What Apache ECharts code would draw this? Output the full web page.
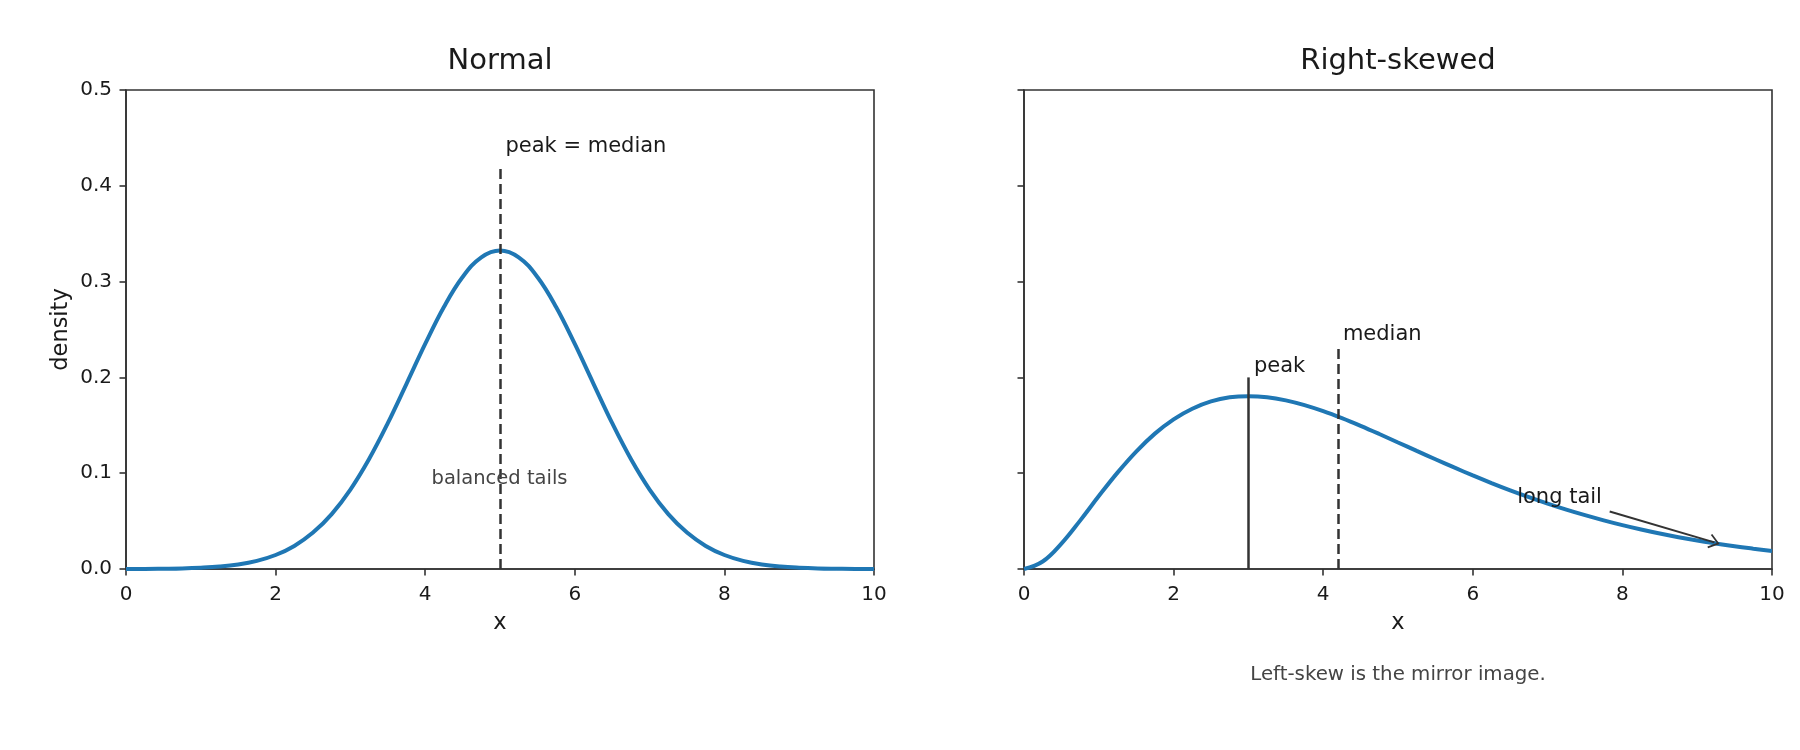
<!DOCTYPE html>
<html>
<head>
<meta charset="utf-8">
<script src="https://cdn.jsdelivr.net/npm/echarts@6/dist/echarts.min.js"></script>
<style>
  html, body { margin: 0; padding: 0; background: #fff; }
  #chart { width: 1800px; height: 750px; }
</style>
</head>
<body>
<div id="chart"></div>
<script>
// x grid shared by both curves
var xs = [0, 0.25, 0.5, 0.75, 1, 1.25, 1.5, 1.75, 2, 2.25, 2.5, 2.75, 3, 3.25, 3.5, 3.75,
  4, 4.25, 4.5, 4.75, 5, 5.25, 5.5, 5.75, 6, 6.25, 6.5, 6.75, 7, 7.25, 7.5, 7.75,
  8, 8.25, 8.5, 8.75, 9, 9.25, 9.5, 9.75, 10];

// density
var normalY = [0.0001, 0.0001, 0.0003, 0.0006, 0.0013, 0.0025, 0.0047, 0.0085, 0.0146, 0.0241,
  0.0380, 0.0573, 0.0829, 0.1148, 0.1522, 0.1933, 0.2349, 0.2735, 0.3048, 0.3253, 0.3324,
  0.3253, 0.3048, 0.2735, 0.2349, 0.1933, 0.1522, 0.1148, 0.0829, 0.0573, 0.0380,
  0.0241, 0.0146, 0.0085, 0.0047, 0.0025, 0.0013, 0.0006, 0.0003, 0.0001, 0.0001];

// density
var skewY = [0, 0.0078, 0.0265, 0.0505, 0.0761, 0.1006, 0.1226, 0.1413, 0.1562, 0.1673,
  0.1749, 0.1792, 0.1804, 0.1793, 0.1760, 0.1710, 0.1647, 0.1574, 0.1494, 0.1409, 0.1321,
  0.1233, 0.1146, 0.1060, 0.0977, 0.0897, 0.0821, 0.0750, 0.0683, 0.0620, 0.0562,
  0.0508, 0.0458, 0.0412, 0.0370, 0.0332, 0.0297, 0.0266, 0.0237, 0.0212, 0.0189];

var titles = ['Normal', 'Right-skewed'];
var caption = 'Left-skew is the mirror image.';

// marker lines: [x, top]
var normalMedian = [5, 0.42];
var skewPeak = [3, 0.2];
var skewMedian = [4.2, 0.23];
// arrow from text to tail: [x0, y0, x1, y1]
var tailArrow = [7.83, 0.06, 9.23, 0.0278];

// annotation texts: [x, y, text]
var leftNotes = [[5.08, 0.429, 'peak = median']];
var rightNotes = [[3.08, 0.2, 'peak'], [4.27, 0.233, 'median'], [6.6, 0.0635, 'long tail']];
var balancedNote = [5, 0.094, 'balanced tails'];

var FONT = 'DejaVu Sans';
var INK = '#1a1a1a';
var SPINE = '#333';

function xAxisFor(i) {
  return {
    gridIndex: i, type: 'value', min: 0, max: 10, interval: 2,
    name: 'x', nameLocation: 'middle', nameGap: 42.5,
    nameTextStyle: { fontFamily: FONT, fontSize: 22.5, color: INK },
    axisLine: { show: true, onZero: false, lineStyle: { color: SPINE, width: 1.6 } },
    axisTick: { show: true, inside: false, length: 6.5, lineStyle: { color: SPINE, width: 1.6 } },
    axisLabel: { fontFamily: FONT, fontSize: 20, color: INK, margin: 15.5 },
    splitLine: { show: false }
  };
}

function yAxisFor(i) {
  return {
    gridIndex: i, type: 'value', min: 0, max: 0.5, interval: 0.1,
    name: i === 0 ? 'density' : '', nameLocation: 'middle', nameGap: 53,
    nameTextStyle: { fontFamily: FONT, fontSize: 22.5, color: INK },
    axisLine: { show: true, onZero: false, lineStyle: { color: SPINE, width: 1.6 } },
    axisTick: { show: true, inside: false, length: 6.5, lineStyle: { color: SPINE, width: 1.6 } },
    axisLabel: {
      show: i === 0, fontFamily: FONT, fontSize: 20, color: INK, margin: 14,
      formatter: function (v) { return v.toFixed(1); }
    },
    splitLine: { show: false }
  };
}

function vline(x, top, dashed) {
  return [
    { coord: [x, 0], lineStyle: { color: SPINE, width: 2.5, type: dashed ? [10, 5] : 'solid' } },
    { coord: [x, top] }
  ];
}

function notes(list, gi, color, size, align, vAlign) {
  return {
    type: 'scatter', xAxisIndex: gi, yAxisIndex: gi,
    symbolSize: 1, itemStyle: { color: 'transparent', opacity: 1 }, silent: true, z: 5,
    data: list.map(function (n) { return { value: [n[0], n[1]], name: n[2] }; }),
    label: {
      show: true, formatter: '{b}', position: [0, 0],
      align: align, verticalAlign: vAlign,
      fontFamily: FONT, fontSize: size, color: color
    }
  };
}

function titleAt(text, x, y, size, color) {
  return {
    text: text, left: x, top: y, textAlign: 'center', padding: 0,
    textStyle: { fontFamily: FONT, fontSize: size, fontWeight: 'normal', color: color }
  };
}

var chart = echarts.init(document.getElementById('chart'), null, { renderer: 'canvas' });

chart.setOption({
  animation: false,
  backgroundColor: '#fff',
  title: [
    titleAt(titles[0], 500, 47, 29, INK),
    titleAt(titles[1], 1398, 47, 29, INK),
    titleAt(caption, 1398, 665, 19.8, '#444')
  ],
  grid: [
    { left: 126, top: 90, width: 748, height: 479, show: true, borderColor: SPINE, borderWidth: 1.6, backgroundColor: 'transparent' },
    { left: 1024, top: 90, width: 748, height: 479, show: true, borderColor: SPINE, borderWidth: 1.6, backgroundColor: 'transparent' }
  ],
  xAxis: [xAxisFor(0), xAxisFor(1)],
  yAxis: [yAxisFor(0), yAxisFor(1)],
  series: [
    {
      type: 'line', xAxisIndex: 0, yAxisIndex: 0, showSymbol: false, smooth: 0.4,
      lineStyle: { color: '#1f77b4', width: 4 },
      data: xs.map(function (x, i) { return [x, normalY[i]]; }),
      markLine: {
        silent: true, symbol: ['none', 'none'], label: { show: false },
        data: [vline(normalMedian[0], normalMedian[1], true)]
      },
      z: 3
    },
    {
      type: 'line', xAxisIndex: 1, yAxisIndex: 1, showSymbol: false, smooth: 0.4,
      lineStyle: { color: '#1f77b4', width: 4 },
      data: xs.map(function (x, i) { return [x, skewY[i]]; }),
      markLine: {
        silent: true, symbol: ['none', 'none'], label: { show: false },
        data: [
          vline(skewPeak[0], skewPeak[1], false),
          vline(skewMedian[0], skewMedian[1], true),
          [
            { coord: [tailArrow[0], tailArrow[1]], symbol: 'none',
              lineStyle: { color: SPINE, width: 2, type: 'solid' } },
            { coord: [tailArrow[2], tailArrow[3]],
              symbol: 'path://M10,0 L20,14 L18,15.5 L10,4.2 L2,15.5 L0,14 Z', symbolSize: [15, 11] }
          ]
        ]
      },
      z: 3
    },
    notes(leftNotes, 0, INK, 21, 'left', 'bottom'),
    notes([balancedNote], 0, '#444', 19.5, 'center', 'middle'),
    notes(rightNotes, 1, INK, 21, 'left', 'bottom')
  ]
});
</script>
</body>
</html>
